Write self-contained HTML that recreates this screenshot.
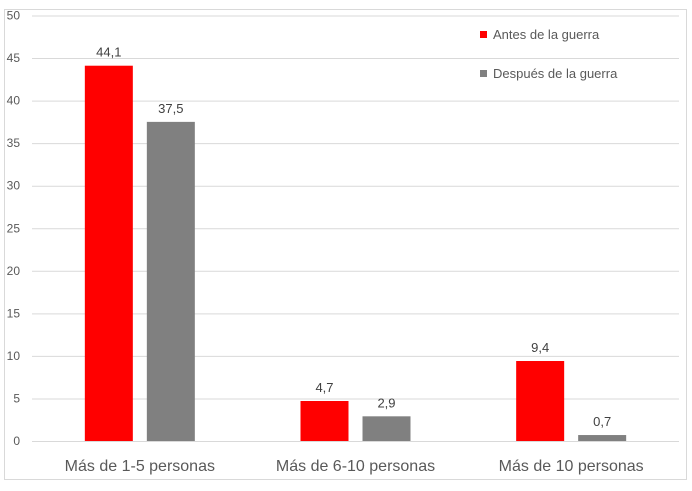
<!DOCTYPE html>
<html><head><meta charset="utf-8"><style>
html,body{margin:0;padding:0;background:#fff;}
body{width:692px;height:486px;overflow:hidden;font-family:"Liberation Sans",sans-serif;}
</style></head><body>
<svg id="chart" width="692" height="486" xmlns="http://www.w3.org/2000/svg" font-family="Liberation Sans, sans-serif">
<rect x="4.5" y="9.5" width="682" height="470" fill="#fff" stroke="#d9d9d9"/>
<g id="grid"></g><g id="bars"></g><g id="labels"></g>
<g>
<rect x="480" y="31" width="7" height="7" fill="#ff0000"/>
<text x="493" y="39" font-size="13" fill="#595959">Antes de la guerra</text>
<rect x="480" y="70" width="7" height="7" fill="#808080"/>
<text x="493" y="78" font-size="13" fill="#595959">Después de la guerra</text>
</g>
</svg>
<script>
const categories=["Más de 1-5 personas","Más de 6-10 personas","Más de 10 personas"];
const antes=[44.1,4.7,9.4];
const despues=[37.5,2.9,0.7];
const antesLabels=["44,1","4,7","9,4"];
const despuesLabels=["37,5","2,9","0,7"];
const ticks=[0,5,10,15,20,25,30,35,40,45,50];
const NS="http://www.w3.org/2000/svg";
const x0=32,x1=679,y0=441,y50=15.5;
function y(v){return y0-(v/50)*(y0-y50);}
const bw=(x1-x0)/categories.length;
function cx(i){return x0+bw*(i+0.5);}
function mk(tag,attrs,parent){const e=document.createElementNS(NS,tag);for(const k in attrs)e.setAttribute(k,attrs[k]);parent.appendChild(e);return e;}
const grid=document.getElementById('grid'),bars=document.getElementById('bars'),labels=document.getElementById('labels');
ticks.forEach(t=>{
 const l=mk('line',{x1:x0,x2:x1,y1:y(t)+0.5,y2:y(t)+0.5,stroke:'#d9d9d9','stroke-width':1},grid);
 
 
 const tx=mk('text',{x:20,y:y(t)+4,'font-size':12,fill:'#595959','text-anchor':'end'},grid);
 tx.textContent=t;
 
 
});
const W=48,gap=14;
categories.forEach((c,i)=>{
 const xa=cx(i)-gap/2-W, xb=cx(i)+gap/2;
 const ra=mk('rect',{x:xa,y:y(antes[i]),width:W,height:y0-y(antes[i]),fill:'#ff0000'},bars);
 
 
 const rb=mk('rect',{x:xb,y:y(despues[i]),width:W,height:y0-y(despues[i]),fill:'#808080'},bars);
 
 
 const la=mk('text',{x:xa+W/2,y:y(antes[i])-9,'font-size':13,fill:'#404040','text-anchor':'middle'},labels);
 la.textContent=antesLabels[i];
 
 
 const lb=mk('text',{x:xb+W/2,y:y(despues[i])-9,'font-size':13,fill:'#404040','text-anchor':'middle'},labels);
 lb.textContent=despuesLabels[i];
 
 
 const cl=mk('text',{x:cx(i),y:471,'font-size':16,fill:'#595959','text-anchor':'middle'},labels);
 cl.textContent=c;
 
 
});
</script>
</body></html>
